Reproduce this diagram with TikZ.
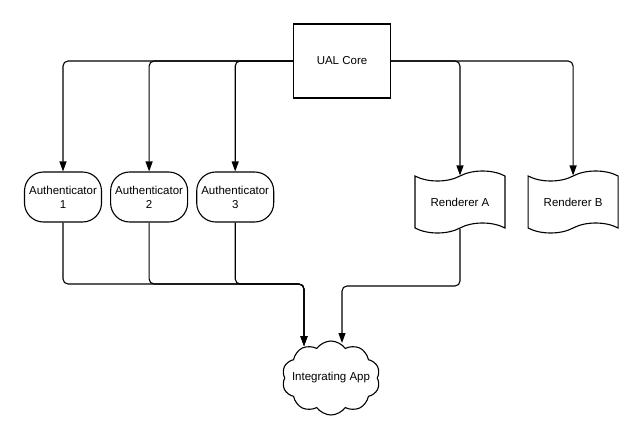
\documentclass[tikz,border=0pt]{standalone}
\usepackage{fontspec}
\setmainfont{Liberation Sans}
\usetikzlibrary{positioning}
\usetikzlibrary{shapes.symbols}
\usetikzlibrary{arrows.meta}

\begin{document}
\begin{tikzpicture}[x=1pt, y=-1pt, font=\fontsize{11.5}{14}\selectfont]
        \tikzstyle{core_style} = [rectangle, draw, line width=1.1pt, minimum width=97pt, minimum height=74pt]
        \tikzstyle{auth_style} = [rectangle, draw, rounded corners=19pt, line width=1.1pt, minimum width=77pt, minimum height=50pt, align=center]
        \tikzstyle{renderer_style} = [tape, draw, line width=1.1pt, minimum width=90pt, minimum height=62pt, tape bend height=10pt]
        \tikzstyle{app_style} = [cloud, draw, line width=1.1pt, cloud puffs=10, cloud puff arc=110, cloud ignores aspect, minimum width=98pt, minimum height=74pt]
        \tikzstyle{arrow_style1} = [-{Triangle[length=10pt, width=7pt]}, black, line width=1.1pt, rounded corners=5pt]

        \useasboundingbox (0,0) rectangle (640,444);

        \node[core_style] (core) at (342,61) {UAL Core};

        \node[auth_style] (auth1) at (63,197) {Authenticator\\1};
        \node[auth_style] (auth2) [right=8pt of auth1] {Authenticator\\2};
        \node[auth_style] (auth3) [right=8pt of auth2] {Authenticator\\3};

        \node[renderer_style] (rendA) at (460,202) {Renderer A};
        \node[renderer_style] (rendB) [right=22pt of rendA] {Renderer B};

        \node[app_style, label=center:Integrating App] (app) at (331,378) {};

        \coordinate (busL) at (304,284);
        \coordinate (busR) at (342,286);
        \coordinate (appL) at (304,346);
        \coordinate (appR) at (342,343);

        % core to authenticators and renderers
        \draw[arrow_style1] (core.west) -| (auth1.north);
        \draw[arrow_style1] (core.west) -| (auth2.north);
        \draw[arrow_style1] (core.west) -| (auth3.north);
        \draw[arrow_style1] (core.east) -| (rendA.north);
        \draw[arrow_style1] (core.east) -| (rendB.north);

        % into the app
        \draw[arrow_style1] (auth1.south) |- (busL) -- (appL);
        \draw[arrow_style1] (auth2.south) |- (busL) -- (appL);
        \draw[arrow_style1] (auth3.south) |- (busL) -- (appL);
        \draw[arrow_style1] (rendA.south) |- (busR) -- (appR);

    \end{tikzpicture}
\end{document}
